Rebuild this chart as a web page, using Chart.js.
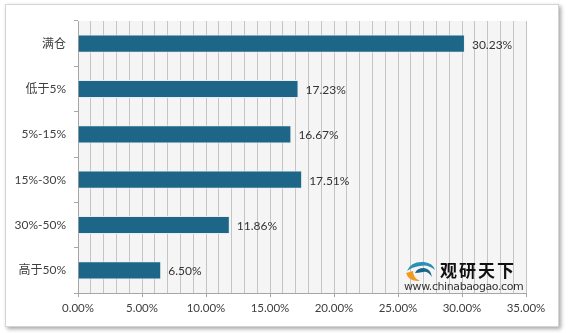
<!DOCTYPE html>
<html>
<head>
<meta charset="utf-8">
<script src="https://cdn.jsdelivr.net/npm/chart.js@4/dist/chart.umd.min.js"></script>
<style>
    html, body { margin: 0; padding: 0; background: #fff; }
    #frame {
        position: absolute; left: 5px; top: 4px; width: 554px; height: 323px;
        border: 1px solid #d4d4d4; box-sizing: border-box; background: #fff;
        box-shadow: 2px 2px 4px rgba(0, 0, 0, 0.35);
    }
    #frame canvas { position: absolute; left: 0; top: 0; }
    #brand { position: absolute; left: 398px; top: 254px; width: 130px; height: 40px; }
    #brand svg { position: absolute; left: 0; top: 1px; }
    #brand .name {
        position: absolute; left: 36px; top: 1px; font: bold 17px "Noto Sans CJK SC", sans-serif;
        color: #111; letter-spacing: 2px; line-height: 20px;
    }
    #brand .url {
        position: absolute; left: 0; top: 22px; font: 11px "DejaVu Sans", sans-serif;
        color: #333; letter-spacing: -0.4px; line-height: 12px;
    }
</style>
</head>
<body>
<div id="frame">
    <canvas id="shareChart" width="552" height="321"></canvas>
    <div id="brand">
        <svg width="32" height="22" viewBox="0 0 32 22">
            <path d="M2 13 Q5 22 16 21 Q9 18 9 11 Z" fill="#f39a1e"/>
            <path d="M3 11 Q7 1 20 2 Q29 3 31 10 Q24 4 16 6 Q8 7 3 11 Z" fill="#2a8fb8"/>
            <path d="M11 13 Q13 8 20 8 Q27 9 28 17 Q24 11 19 12 Q14 13 11 13 Z" fill="#1b6688"/>
        </svg>
        <div class="name">观研天下</div>
        <div class="url">www.chinabaogao.com</div>
    </div>
</div>
<script>
document.addEventListener('DOMContentLoaded', function () {
    const categories = ['满仓', '低于5%', '5%-15%', '15%-30%', '30%-50%', '高于50%'];
    const shares = [30.23, 17.23, 16.67, 17.51, 11.86, 6.50];

    // light grey fill behind the plot
    const plotBackground = {
        id: 'plotBackground',
        beforeDraw: function (chart) {
            const a = chart.chartArea;
            const ctx = chart.ctx;
            ctx.save();
            ctx.fillStyle = '#f5f5f5';
            ctx.fillRect(a.left, a.top, a.right - a.left, a.bottom - a.top);
            ctx.restore();
        }
    };

    // value text after the end of each bar
    const valueLabels = {
        id: 'valueLabels',
        afterDatasetsDraw: function (chart) {
            const ctx = chart.ctx;
            const meta = chart.getDatasetMeta(0);
            ctx.save();
            ctx.font = '12px Lato, "Noto Sans CJK SC", sans-serif';
            ctx.fillStyle = '#333';
            ctx.textAlign = 'left';
            ctx.textBaseline = 'middle';
            meta.data.forEach(function (bar, i) {
                ctx.fillText(shares[i].toFixed(2) + '%', bar.x + 7, bar.y + 1);
            });
            ctx.restore();
        }
    };

    const ctx = document.getElementById('shareChart').getContext('2d');
    const shareChart = new Chart(ctx, {
        type: 'bar',
        data: {
            labels: categories,
            datasets: [{
                data: shares,
                backgroundColor: '#1d6688',
                borderColor: '#e6eef2',
                borderWidth: 1,
                borderSkipped: 'left',
                categoryPercentage: 1,
                barPercentage: 0.4
            }]
        },
        options: {
            indexAxis: 'y',
            responsive: false,
            animation: false,
            layout: { padding: { top: 16, right: 32, left: 0, bottom: 0 } },
            plugins: {
                legend: { display: false },
                tooltip: { enabled: false }
            },
            scales: {
                x: {
                    min: 0,
                    max: 35,
                    afterFit: function (scale) { scale.height = 33; },
                    ticks: {
                        stepSize: 1,
                        autoSkip: false,
                        maxRotation: 0,
                        padding: 4,
                        color: '#404040',
                        font: { family: 'Lato, sans-serif', size: 11.5 },
                        callback: function (value) {
                            return value % 5 === 0 ? value.toFixed(2) + '%' : '';
                        }
                    },
                    grid: {
                        color: function (c) { return c.tick && c.tick.value === 0 ? '#a6a6a6' : '#c4c4c4'; },
                        tickColor: function (c) { return c.tick && c.tick.value % 5 === 0 ? '#a6a6a6' : 'rgba(0,0,0,0)'; },
                        tickLength: 4
                    },
                    border: { color: '#a6a6a6' }
                },
                y: {
                    afterFit: function (scale) { scale.width = 72; },
                    ticks: {
                        padding: 8,
                        color: '#404040',
                        font: { family: 'Lato, "Noto Sans CJK SC", sans-serif', size: 12 }
                    },
                    grid: {
                        offset: true,
                        drawOnChartArea: false,
                        color: '#a6a6a6',
                        tickLength: 4
                    },
                    border: { color: '#a6a6a6' }
                }
            }
        },
        plugins: [plotBackground, valueLabels]
    });
});
</script>
</body>
</html>
